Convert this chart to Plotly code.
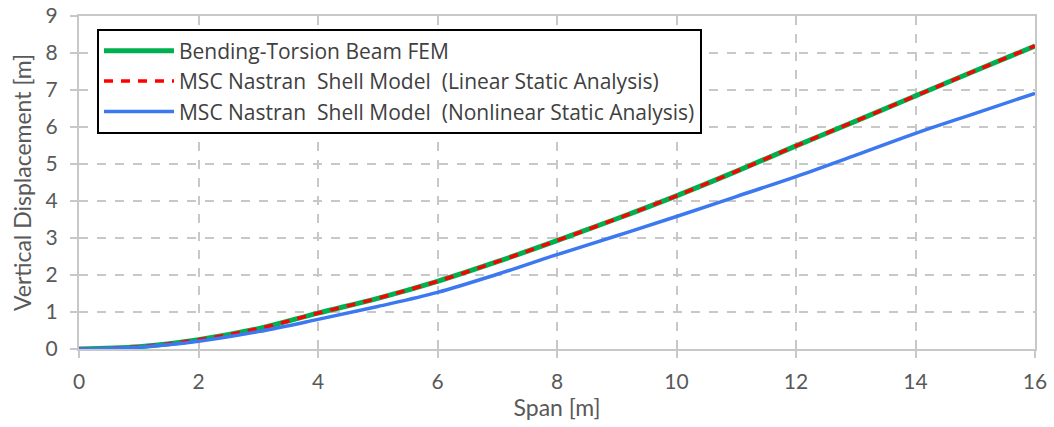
import plotly.graph_objects as go

span = [0, 1, 2, 3, 4, 5, 6, 7, 8, 9, 10, 11, 12, 13, 14, 15, 16]
beam_fem = [0, 0.06, 0.25, 0.55, 0.97, 1.37, 1.83, 2.36, 2.93, 3.52, 4.14, 4.80, 5.49, 6.16, 6.84, 7.52, 8.19]
shell_linear = [0, 0.06, 0.25, 0.55, 0.97, 1.37, 1.83, 2.36, 2.93, 3.52, 4.14, 4.80, 5.49, 6.16, 6.84, 7.52, 8.19]
shell_nonlinear = [0, 0.05, 0.21, 0.47, 0.80, 1.15, 1.53, 2.02, 2.55, 3.06, 3.58, 4.12, 4.66, 5.24, 5.83, 6.37, 6.91]

names = [
    "Bending-Torsion Beam FEM",
    "MSC Nastran  Shell Model  (Linear Static Analysis)",
    "MSC Nastran  Shell Model  (Nonlinear Static Analysis)",
]

fig = go.Figure()
fig.add_trace(go.Scatter(x=span, y=beam_fem, mode="lines", name=names[0],
                         line=dict(color="#00B050", width=5, shape="spline")))
fig.add_trace(go.Scatter(x=span, y=shell_linear, mode="lines", name=names[1],
                         line=dict(color="#FF0000", width=3.5, dash="9px,8px", shape="spline")))
fig.add_trace(go.Scatter(x=span, y=shell_nonlinear, mode="lines", name=names[2],
                         line=dict(color="#3C78F0", width=3.5, shape="spline")))

font_family = "Lato, 'Open Sans', sans-serif"
grid_color = "#C8C8C8"
text_color = "#595959"

fig.update_layout(
    width=1054, height=427,
    margin=dict(l=79, r=19, t=16, b=78),
    paper_bgcolor="white", plot_bgcolor="white",
    font=dict(family=font_family, color=text_color, size=21),
    showlegend=True,
    legend=dict(x=0.0188, y=0.962, xanchor="left", yanchor="top",
                bgcolor="white", bordercolor="black", borderwidth=2,
                font=dict(size=21, color="#404040", family="'Open Sans', sans-serif"),
                itemwidth=70, tracegroupgap=0, traceorder="normal"),
    xaxis=dict(range=[0, 16], tickvals=[0, 2, 4, 6, 8, 10, 12, 14, 16],
               showgrid=True, gridcolor=grid_color, griddash="dash", gridwidth=1.5,
               showline=True, linecolor=grid_color, linewidth=2, mirror=True,
               ticks="outside", ticklen=7, tickcolor=grid_color, tickwidth=1.5,
               zeroline=False, ticklabelstandoff=6, automargin=False,
               title=dict(text="Span [m]", font=dict(size=23, color=text_color), standoff=6),
               tickfont=dict(size=21, color=text_color)),
    yaxis=dict(range=[0, 9], tickvals=list(range(10)),
               showgrid=True, gridcolor=grid_color, griddash="dash", gridwidth=1.5,
               showline=True, linecolor=grid_color, linewidth=2, mirror=True,
               ticks="outside", ticklen=7, tickcolor=grid_color, tickwidth=1.5,
               zeroline=False, ticklabelstandoff=8, automargin=False,
               title=dict(text="Vertical Displacement [m]", font=dict(size=23, color=text_color), standoff=8),
               tickfont=dict(size=21, color=text_color)),
)

fig.write_html("out.html")
